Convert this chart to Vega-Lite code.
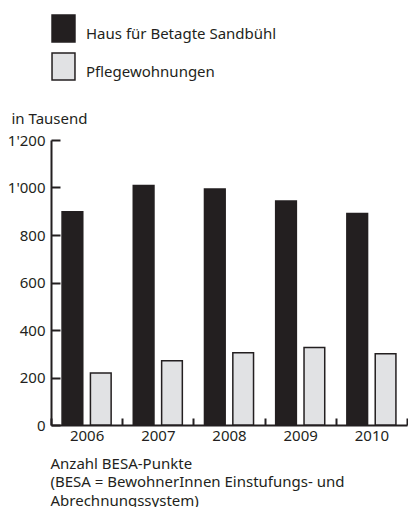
{
  "$schema": "https://vega.github.io/schema/vega-lite/v6.json",
  "autosize": "none",
  "width": 356,
  "height": 285,
  "padding": {"left": 51, "top": 140, "right": 1, "bottom": 82},
  "background": "white",
  "config": {
    "locale": {"number": {"decimal": ".", "thousands": "'", "grouping": [3], "currency": ["CHF ", ""]}},
    "font": "Noto Sans",
    "view": {"stroke": null},
    "axis": {"labelFont": "Noto Sans", "titleFont": "Noto Sans", "labelColor": "#231f20", "titleColor": "#231f20", "labelFontSize": 15, "titleFontSize": 15, "titleFontWeight": "normal", "grid": false, "domainColor": "#231f20", "domainWidth": 2, "tickColor": "#231f20", "tickWidth": 2},
    "legend": {"labelFont": "Noto Sans", "labelFontSize": 15, "labelColor": "#231f20"}
  },
  "data": {
    "values": [
      {"year": "2006", "series": "Haus für Betagte Sandbühl", "value": 898},
      {"year": "2007", "series": "Haus für Betagte Sandbühl", "value": 1008},
      {"year": "2008", "series": "Haus für Betagte Sandbühl", "value": 994},
      {"year": "2009", "series": "Haus für Betagte Sandbühl", "value": 943},
      {"year": "2010", "series": "Haus für Betagte Sandbühl", "value": 891},
      {"year": "2006", "series": "Pflegewohnungen", "value": 219},
      {"year": "2007", "series": "Pflegewohnungen", "value": 271},
      {"year": "2008", "series": "Pflegewohnungen", "value": 304},
      {"year": "2009", "series": "Pflegewohnungen", "value": 326},
      {"year": "2010", "series": "Pflegewohnungen", "value": 300}
    ]
  },
  "mark": {"type": "bar", "stroke": "#231f20", "strokeWidth": 1.5},
  "encoding": {
    "x": {
      "field": "year", "type": "ordinal",
      "scale": {"paddingInner": 0, "paddingOuter": 0},
      "axis": {
        "labelAngle": 0, "tickBand": "extent", "tickSize": -7, "labelPadding": 10,
        "title": ["Anzahl BESA-Punkte", "(BESA = BewohnerInnen Einstufungs- und", "Abrechnungssystem)"],
        "titleAlign": "left", "titleAnchor": "start", "titleX": -1, "titleY": 43, "titleBaseline": "alphabetic", "titleLineHeight": 18.5
      }
    },
    "xOffset": {
      "field": "series", "type": "nominal",
      "scale": {"domain": ["Haus für Betagte Sandbühl", "Pflegewohnungen"], "paddingInner": 0.27, "paddingOuter": 0.39}
    },
    "y": {
      "field": "value", "type": "quantitative",
      "scale": {"domain": [0, 1200], "nice": false},
      "axis": {
        "values": [0, 200, 400, 600, 800, 1000, 1200], "format": ",d", "tickSize": -9, "labelPadding": 15,
        "title": "in Tausend", "titleAngle": 0, "titleAlign": "left", "titleAnchor": null, "titleX": -40, "titleY": -17, "titleBaseline": "alphabetic"
      }
    },
    "fill": {
      "field": "series", "type": "nominal",
      "scale": {"domain": ["Haus für Betagte Sandbühl", "Pflegewohnungen"], "range": ["#231f20", "#e1e2e4"]},
      "legend": {
        "title": null, "orient": "none", "legendX": -2, "legendY": -120.5, "padding": 0,
        "symbolType": "M-0.85,-1.41H0.85V0.59H-0.85Z", "symbolSize": 729, "symbolStrokeWidth": 1.5, "symbolStrokeColor": "#231f20",
        "labelOffset": 8, "rowPadding": 4, "labelBaseline": "middle", "labelLimit": 0
      }
    }
  }
}
